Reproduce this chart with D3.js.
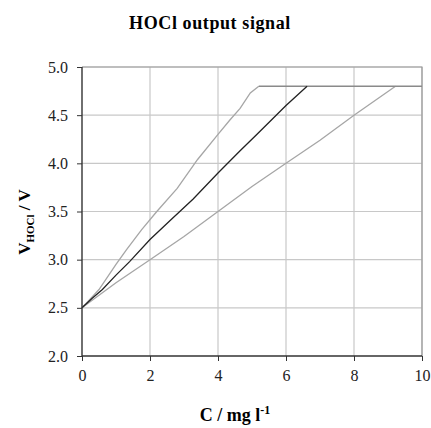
<!DOCTYPE html>
<html lang="en">
<head>
    <meta charset="UTF-8">
    <title>HOCl output signal</title>
    <script src="https://d3js.org/d3.v7.min.js"></script>
    <style>
        body { margin: 0; background: #fff; }
        svg text { font-family: "Liberation Serif", "Times New Roman", serif; }
        .tick text { font-size: 16px; fill: #222; }
        .grid line { stroke: #c8c8c8; stroke-width: 1.2px; }
        .series { fill: none; stroke-width: 1.3px; }
    </style>
</head>
<body>
    <div id="chart"></div>
    <script>
        // concentration C (mg/l) and signal V for the three traces
        const upperC = [0, 0.5, 1.0, 1.3, 1.75, 2.2, 2.8, 3.4, 4.0, 4.35, 4.65, 4.95, 5.2];
        const upperV = [2.5, 2.69, 2.95, 3.10, 3.31, 3.5, 3.74, 4.04, 4.30, 4.45, 4.57, 4.73, 4.8];

        const middleC = [0, 0.3, 0.6, 1.0, 1.4, 2.0, 2.6, 3.27, 4.0, 4.65, 5.14, 5.63, 6.0, 6.62];
        const middleV = [2.5, 2.6, 2.69, 2.84, 2.98, 3.21, 3.41, 3.63, 3.90, 4.13, 4.30, 4.47, 4.60, 4.8];

        const lowerC = [0, 1, 2, 3, 4, 5, 6, 7, 8, 9.22];
        const lowerV = [2.5, 2.76, 3.0, 3.24, 3.5, 3.76, 4.0, 4.24, 4.5, 4.8];

        const plateauC = [5.2, 10];
        const plateauV = [4.8, 4.8];

        const xTicks = [0, 2, 4, 6, 8, 10];
        const yTicks = [2.0, 2.5, 3.0, 3.5, 4.0, 4.5, 5.0];

        const width = 431, height = 428;
        const margin = { top: 67, right: 9, bottom: 72, left: 82 };
        const innerW = width - margin.left - margin.right;
        const innerH = height - margin.top - margin.bottom;

        const svg = d3.select("#chart").append("svg")
            .attr("width", width)
            .attr("height", height);

        const g = svg.append("g")
            .attr("transform", "translate(" + margin.left + "," + margin.top + ")");

        const x = d3.scaleLinear().domain([0, 10]).range([0, innerW]);
        const y = d3.scaleLinear().domain([2, 5]).range([innerH, 0]);

        // grid
        g.append("g").attr("class", "grid")
            .selectAll("line").data(xTicks.slice(1)).enter().append("line")
            .attr("x1", d => x(d)).attr("x2", d => x(d))
            .attr("y1", 0).attr("y2", innerH);
        g.append("g").attr("class", "grid")
            .selectAll("line").data(yTicks.slice(1)).enter().append("line")
            .attr("x1", 0).attr("x2", innerW)
            .attr("y1", d => y(d)).attr("y2", d => y(d));

        // top / right frame
        g.append("path")
            .attr("d", `M0,0H${innerW}V${innerH}`)
            .attr("fill", "none")
            .attr("stroke", "#999")
            .attr("stroke-width", 1.2);

        const line = d3.line().x(d => x(d[0])).y(d => y(d[1]));
        const series = [
            { c: upperC, v: upperV, color: "#a6a6a6" },
            { c: lowerC, v: lowerV, color: "#a6a6a6" },
            { c: plateauC, v: plateauV, color: "#8a8a8a" },
            { c: middleC, v: middleV, color: "#222" }
        ];
        g.selectAll(".series").data(series).enter().append("path")
            .attr("class", "series")
            .attr("stroke", d => d.color)
            .attr("d", d => line(d.c.map((c, i) => [c, d.v[i]])));

        // axes
        const xAxis = g.append("g")
            .attr("transform", "translate(0," + innerH + ")")
            .call(d3.axisBottom(x).tickValues(xTicks).tickSize(5).tickPadding(9).tickFormat(d3.format("d")));
        const yAxis = g.append("g")
            .call(d3.axisLeft(y).tickValues(yTicks).tickSize(5).tickPadding(9).tickFormat(d3.format(".1f")));
        [xAxis, yAxis].forEach(a => {
            a.selectAll(".domain").attr("stroke", "#333").attr("stroke-width", 1.4);
            a.selectAll(".tick line").attr("stroke", "#333");
            a.selectAll("text").attr("font-family", null);
        });
        xAxis.select(".domain").attr("d", `M0,0H${innerW}`);
        yAxis.select(".domain").attr("d", `M0,${innerH}V0`);

        // title
        svg.append("text")
            .attr("x", 210).attr("y", 29)
            .attr("text-anchor", "middle")
            .attr("font-weight", "bold")
            .attr("font-size", 18)
            .attr("letter-spacing", 0.6)
            .text("HOCl output signal");

        // x label
        const xl = svg.append("text")
            .attr("x", 235).attr("y", 421)
            .attr("text-anchor", "middle")
            .attr("font-weight", "bold")
            .attr("font-size", 18);
        xl.append("tspan").text("C / mg l");
        xl.append("tspan").attr("dy", -7).attr("font-size", 12).text("-1");

        // y label
        const yl = svg.append("text")
            .attr("transform", "translate(30,222) rotate(-90)")
            .attr("text-anchor", "middle")
            .attr("font-weight", "bold")
            .attr("font-size", 17);
        yl.append("tspan").text("V");
        yl.append("tspan").attr("dy", 4).attr("font-size", 11).text("HOCl");
        yl.append("tspan").attr("dy", -4).text(" / V");
    </script>
</body>
</html>
